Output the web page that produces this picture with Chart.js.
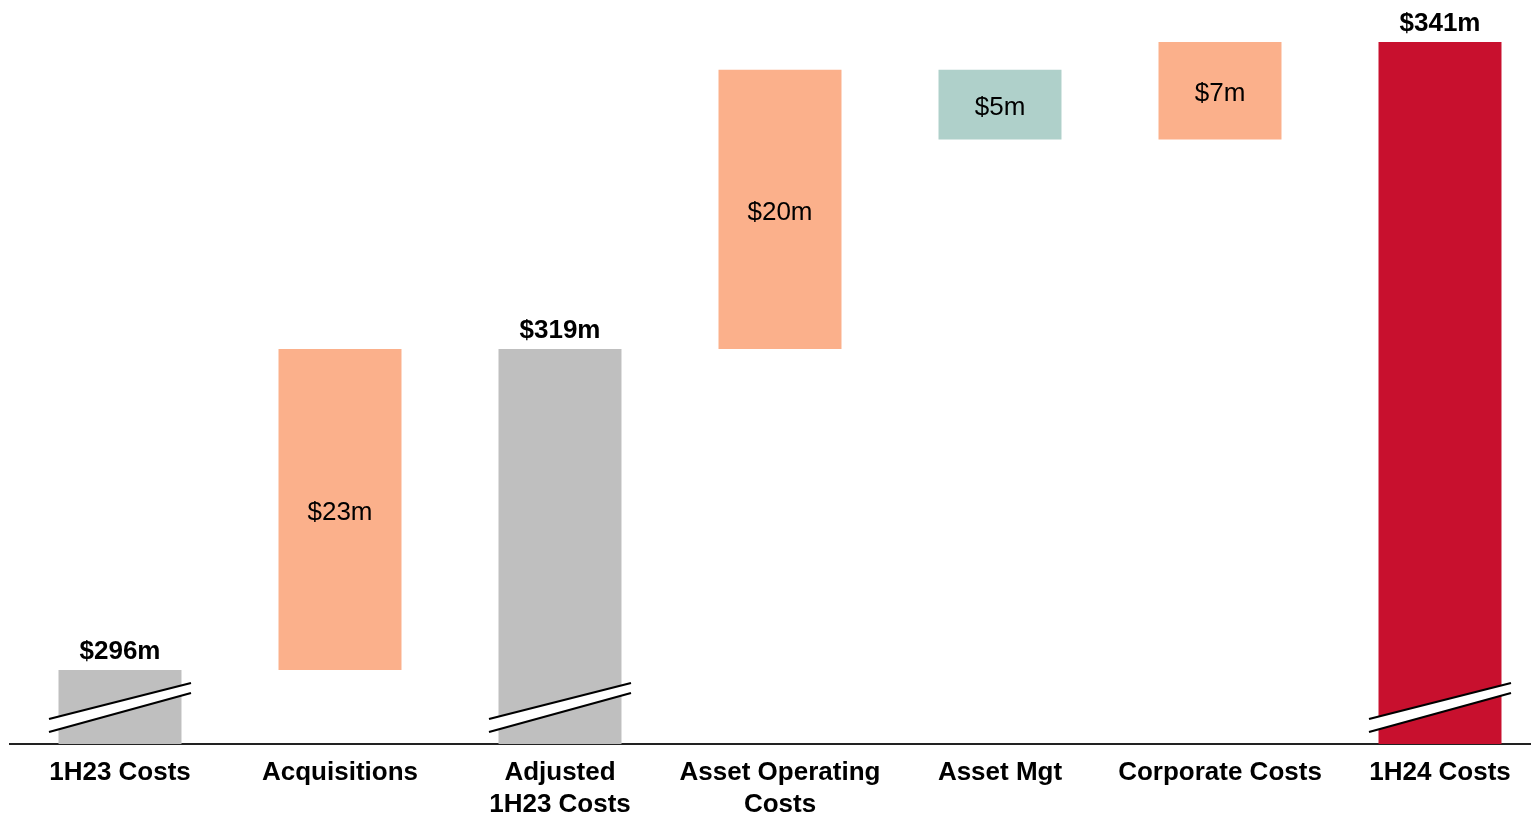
<!DOCTYPE html>
<html>
<head>
<meta charset="utf-8">
<script src="https://cdn.jsdelivr.net/npm/chart.js@4.4.1/dist/chart.umd.min.js"></script>
<style>
    html, body { margin: 0; padding: 0; background: #fff; overflow: hidden; }
    #wrap { position: relative; width: 1560px; height: 815px; }
</style>
</head>
<body>
<div id="wrap"><canvas id="waterfall"></canvas></div>
<script>
const CATEGORIES = [
    '1H23 Costs',
    'Acquisitions',
    ['Adjusted', '1H23 Costs'],
    ['Asset Operating', 'Costs'],
    'Asset Mgt',
    'Corporate Costs',
    '1H24 Costs'
];
// 'total' bars start at the axis, 'delta' bars float on the running total
const STEP_TYPES = ['total', 'delta', 'total', 'delta', 'delta', 'delta', 'total'];
const STEP_VALUES = [296, 23, 319, 20, -5, 7, 341];
const VALUE_LABELS = ['$296m', '$23m', '$319m', '$20m', '$5m', '$7m', '$341m'];
const BAR_COLORS = ['#BFBFBF', '#FBB08B', '#BFBFBF', '#FBB08B', '#AFD0CA', '#FBB08B', '#C8102E'];
const BROKEN_BARS = [0, 2, 6];

const AXIS_MIN = 290.7;
const AXIS_MAX = 344;

// build floating ranges from the steps
let running = 0;
const barRanges = STEP_VALUES.map((v, i) => {
    if (STEP_TYPES[i] === 'total') {
        running = v;
        return [AXIS_MIN, v];
    }
    const start = running;
    running += v;
    return [start, running];
});

const FONT = '"Liberation Sans", Arial, sans-serif';

const labelPlugin = {
    id: 'waterfallLabels',
    afterDatasetsDraw(chart) {
        const ctx = chart.ctx;
        const meta = chart.getDatasetMeta(0);
        const yScale = chart.scales.y;
        ctx.save();
        meta.data.forEach((bar, i) => {
            const range = barRanges[i];
            const top = yScale.getPixelForValue(Math.max(range[0], range[1]));
            const bottom = yScale.getPixelForValue(Math.min(range[0], range[1]));
            ctx.fillStyle = '#000';
            ctx.textAlign = 'center';
            if (STEP_TYPES[i] === 'total') {
                ctx.font = 'bold 26px ' + FONT;
                ctx.textBaseline = 'alphabetic';
                ctx.fillText(VALUE_LABELS[i], bar.x, top - 11);
            } else {
                ctx.font = '26px ' + FONT;
                ctx.textBaseline = 'middle';
                ctx.fillText(VALUE_LABELS[i], bar.x, (top + bottom) / 2 + 3);
            }
        });

        // axis break marks
        const base = chart.chartArea.bottom;
        BROKEN_BARS.forEach(i => {
            const cx = meta.data[i].x;
            const x0 = cx - 71, x1 = cx + 71;
            const upper = [base - 25, base - 61];
            const lower = [base - 12, base - 51];
            ctx.beginPath();
            ctx.moveTo(x0, upper[0]);
            ctx.lineTo(x1, upper[1]);
            ctx.lineTo(x1, lower[1]);
            ctx.lineTo(x0, lower[0]);
            ctx.closePath();
            ctx.fillStyle = '#fff';
            ctx.fill();
            ctx.strokeStyle = '#000';
            ctx.lineWidth = 2.2;
            ctx.beginPath();
            ctx.moveTo(x0, upper[0]);
            ctx.lineTo(x1, upper[1]);
            ctx.moveTo(x0, lower[0]);
            ctx.lineTo(x1, lower[1]);
            ctx.stroke();
        });
        ctx.restore();
    }
};

new Chart(document.getElementById('waterfall'), {
    type: 'bar',
    data: {
        labels: CATEGORIES,
        datasets: [{
            data: barRanges,
            backgroundColor: BAR_COLORS,
            borderWidth: 0,
            categoryPercentage: 1,
            barPercentage: 0.559
        }]
    },
    options: {
        responsive: true,
        maintainAspectRatio: false,
        animation: false,
        layout: { padding: { left: 10, right: 10, top: 0, bottom: 0 } },
        scales: {
            x: {
                afterFit: (scale) => { scale.height = 71; },
                grid: { display: false, drawTicks: false },
                border: { display: true, color: '#222', width: 2 },
                ticks: {
                    color: '#000',
                    padding: 13,
                    maxRotation: 0,
                    autoSkip: false,
                    font: { family: FONT, size: 26, weight: 'bold', lineHeight: 1.23 }
                }
            },
            y: {
                display: false,
                min: AXIS_MIN,
                max: AXIS_MAX
            }
        },
        plugins: {
            legend: { display: false },
            tooltip: { enabled: false }
        }
    },
    plugins: [labelPlugin]
});
</script>
</body>
</html>
